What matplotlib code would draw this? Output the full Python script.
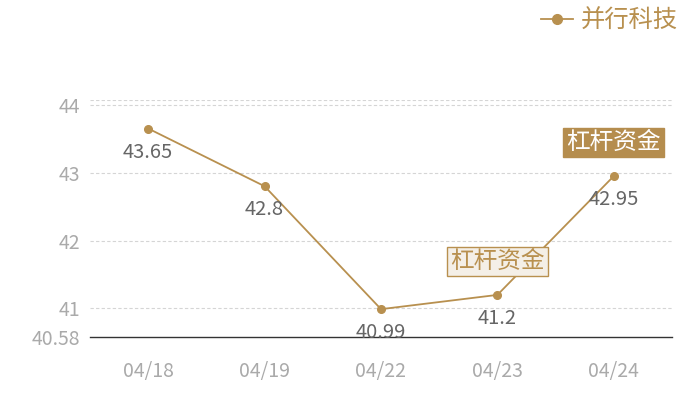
import matplotlib.pyplot as plt
from matplotlib.lines import Line2D

plt.rcParams['font.family'] = ['Noto Sans CJK SC', 'DejaVu Sans']

dates = ['04/18', '04/19', '04/22', '04/23', '04/24']
values = [43.65, 42.8, 40.99, 41.2, 42.95]
yticks = [40.58, 41, 42, 43, 44]
y_min, y_max = 40.58, 44.07
series_name = '并行科技'
tag_text = '杠杆资金'

gold = '#b8904f'

fig = plt.figure(figsize=(7, 4), dpi=100)
ax = fig.add_axes([90 / 700, 63 / 400, 582 / 700, 237 / 400])

x = list(range(len(dates)))
ax.plot(x, values, color=gold, lw=1.3, marker='o', ms=5.5, zorder=3)

for xi, v in zip(x, values):
    ax.annotate(f'{v:g}', (xi, v), xytext=(0, -17), textcoords='offset points',
                ha='center', va='center', fontsize=14.5, color='#666666')

# tags
ax.annotate(tag_text, (3, values[3]), xytext=(0, 24), textcoords='offset points',
            ha='center', va='center', fontsize=17, color=gold,
            bbox=dict(boxstyle='square,pad=0.13', fc='#f4efe7', ec=gold, lw=1))
ax.annotate(tag_text, (4, values[4]), xytext=(0, 24), textcoords='offset points',
            ha='center', va='center', fontsize=17, color='white',
            bbox=dict(boxstyle='square,pad=0.13', fc='#b58d4e', ec='#b58d4e', lw=1))

ax.set_xlim(-0.5, len(dates) - 0.5)
ax.set_ylim(y_min, y_max)
ax.set_xticks(x)
ax.set_xticklabels(dates)
ax.set_yticks(yticks)
ax.set_yticklabels([f'{t:g}' for t in yticks])
ax.tick_params(length=0, labelsize=14, labelcolor='#aaaaaa')
ax.tick_params(axis='x', pad=17)
ax.tick_params(axis='y', pad=7)

for t in yticks[1:] + [y_max]:
    ax.axhline(t, color='#d5d5d5', lw=0.8, ls=(0, (3, 2)), zorder=1)

for s in ['top', 'right', 'left']:
    ax.spines[s].set_visible(False)
ax.spines['bottom'].set_color('#333333')
ax.spines['bottom'].set_linewidth(1)

handle = Line2D([0], [0], color=gold, lw=1.3, marker='o', ms=7)
fig.legend([handle], [series_name], loc='upper right', bbox_to_anchor=(1.0, 1.035),
           frameon=False, fontsize=17.5, labelcolor=gold, handlelength=1.3,
           handletextpad=0.35)

fig.savefig('out.png', dpi=100)
